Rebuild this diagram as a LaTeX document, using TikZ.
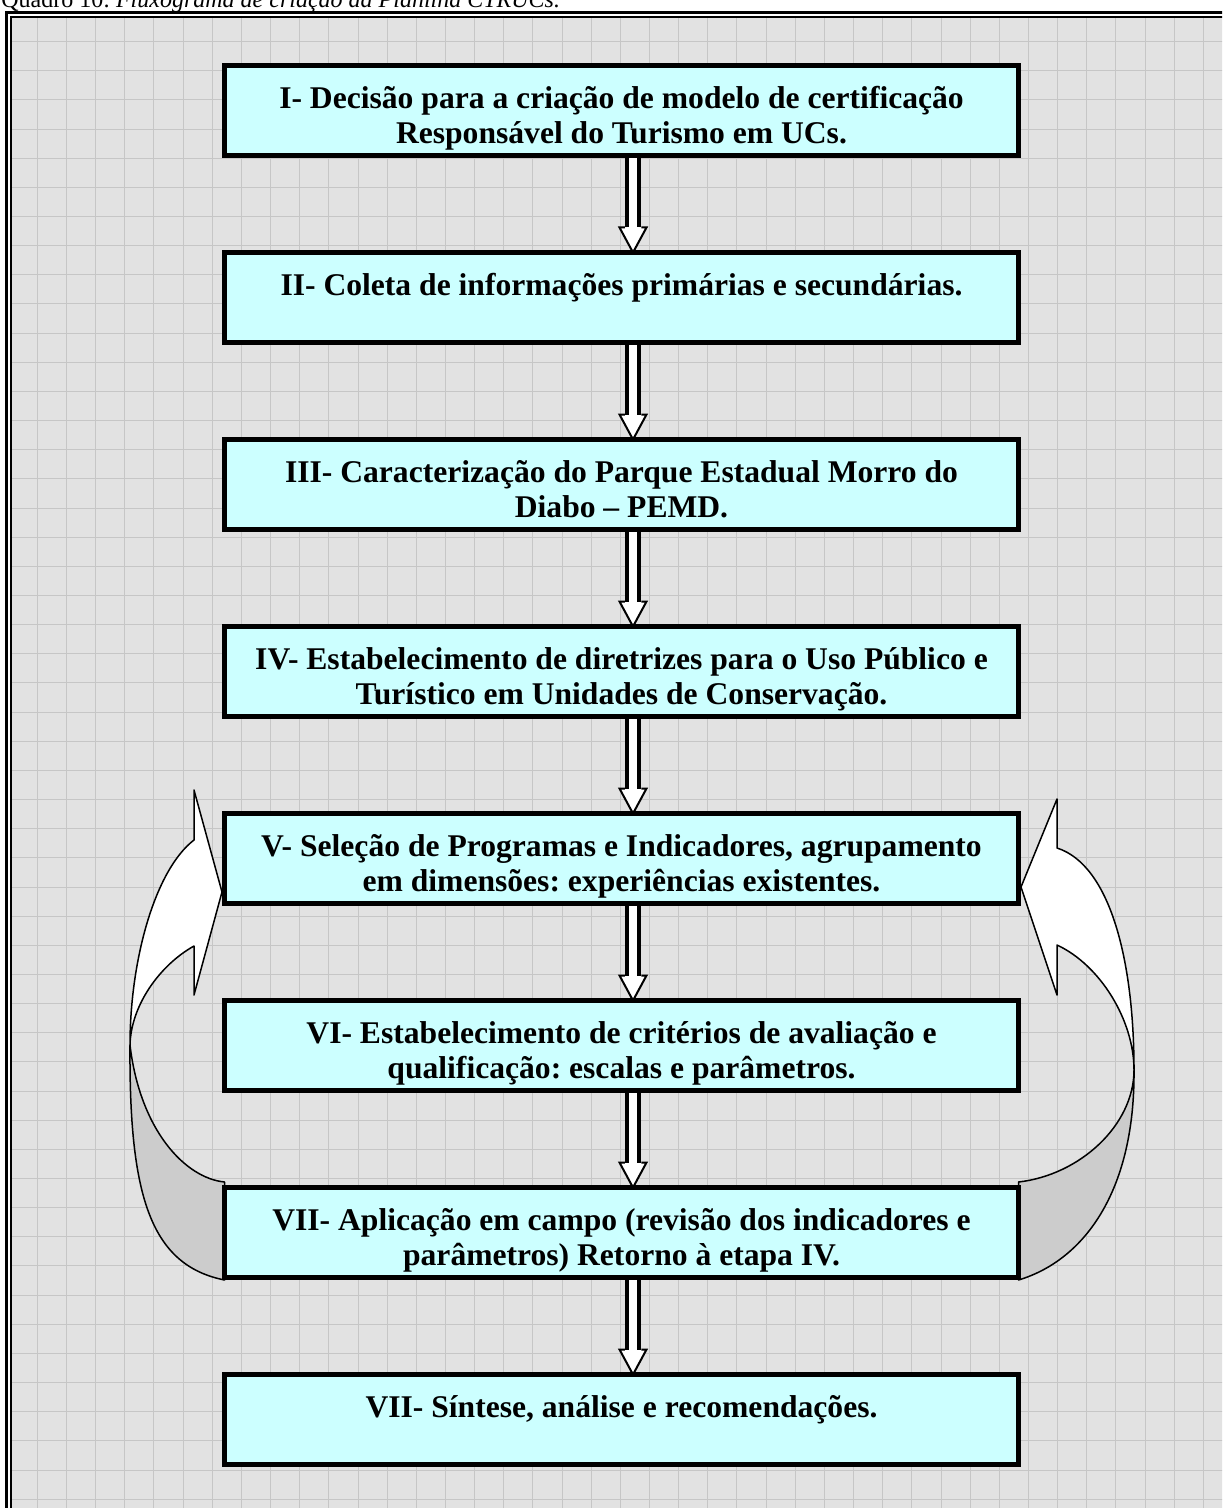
\documentclass[tikz,border=0pt]{standalone}
\usepackage{fontspec}
\setmainfont{Liberation Serif}
\usetikzlibrary{calc}
\definecolor{boxcyan}{HTML}{CCFFFF}
\definecolor{bggray}{HTML}{E2E2E2}
\definecolor{gridgray}{HTML}{C6C6C6}
\definecolor{backgray}{HTML}{CCCCCC}
\frenchspacing
\newcommand\hollowarrow[2]{%
 \fill[white] let \p1=(#1.south), \p2=(#2.north) in (\x1+2.75pt,\y1) -- (\x1+2.75pt,\y2+12.5pt) -- (\x1-1pt,\y2+12.5pt) -- (\x1+5.75pt,\y2) -- (\x1+12.5pt,\y2+12.5pt) -- (\x1+8.75pt,\y2+12.5pt) -- (\x1+8.75pt,\y1) -- cycle;
 \draw[line width=2.25pt] let \p1=(#1.south), \p2=(#2.north) in (\x1+2.75pt,\y1) -- (\x1+2.75pt,\y2+12.5pt) (\x1+8.75pt,\y1) -- (\x1+8.75pt,\y2+12.5pt);
 \draw[line width=1pt, line join=miter, miter limit=10] let \p1=(#1.south), \p2=(#2.north) in (\x1+1.625pt,\y2+12.5pt) -- (\x1-1pt,\y2+12.5pt) -- (\x1+5.75pt,\y2) -- (\x1+12.5pt,\y2+12.5pt) -- (\x1+9.875pt,\y2+12.5pt);
}
\begin{document}
\begin{tikzpicture}[x=0.5pt,y=-0.5pt,
  stage/.style={draw=black, line width=2.5pt, fill=boxcyan, minimum width=397pt, minimum height=45pt, inner sep=0pt, outer sep=0pt},
  stagetext/.style={anchor=north, align=center, inner sep=0pt, font=\fontsize{15.8}{17.5}\selectfont\bfseries},
  ribbon/.style={draw=black, line width=0.75pt, line join=round, fill=white},
  ribbonback/.style={draw=black, line width=0.75pt, line join=round, fill=backgray}]
\useasboundingbox (0,0) rectangle (1222,1508);
\clip (0,0) rectangle (1222,1508);
% page and frame
\fill[white] (0,0) rectangle (1222,1508);
\fill[bggray] (11,17) rectangle (1240,1530);
\foreach \i in {1,...,42} \draw[gridgray, line width=0.5pt] ({8.2+29.15*\i},17) -- ({8.2+29.15*\i},1530);
\foreach \j in {1,...,52} \draw[gridgray, line width=0.5pt] (11,{12.5+29.15*\j}) -- (1240,{12.5+29.15*\j});
\draw[line width=1.5pt] (6.5,12.2) rectangle (1250,1540);
\draw[line width=1.1pt] (11,17.3) rectangle (1250,1540);
% caption
\node[anchor=base west, inner sep=0pt, font=\fontsize{12}{14}\selectfont] (cap) at (1,8) {Quadro 10: \textit{Fluxograma de criação da Planilha CTRUCs.}};
% box centres
\path
  (621.5,110.5) coordinate (c1)
  (621.5,297.5) coordinate (c2)
  (621.5,484.5) coordinate (c3)
  (621.5,671.5) coordinate (c4)
  (621.5,858.5) coordinate (c5)
  (621.5,1045.5) coordinate (c6)
  (621.5,1232.5) coordinate (c7)
  (621.5,1419.5) coordinate (c8);
% curved return arrows (right)
\draw[ribbonback] (1018.5,1280) .. controls (1085,1260) and (1135,1190) .. (1134,1070) .. controls (1134,1125) and (1080,1175) .. (1018.5,1182) -- cycle;
\draw[ribbon] (1134,1070) .. controls (1134,960) and (1110,865) .. (1057,848) -- (1057,799) -- (1021,887) -- (1057,995) -- (1057,945) .. controls (1100,965) and (1134,1020) .. (1134,1070) -- cycle;
% curved return arrows (left)
\draw[ribbonback] (224.5,1280) .. controls (150,1265) and (129,1195) .. (130,1045) .. controls (140,1130) and (185,1178) .. (224.5,1182) -- cycle;
\draw[ribbon] (130,1045) .. controls (130,960) and (155,870) .. (194,840) -- (194,790) -- (222,892) -- (194,995) -- (194,946) .. controls (160,965) and (131,1005) .. (130,1045) -- cycle;
% nodes
\node[stage] (s1) at (c1) {};
\node[stage] (s2) at (c2) {};
\node[stage] (s3) at (c3) {};
\node[stage] (s4) at (c4) {};
\node[stage] (s5) at (c5) {};
\node[stage] (s6) at (c6) {};
\node[stage] (s7) at (c7) {};
\node[stage] (s8) at (c8) {};
% connectors
\hollowarrow{s1}{s2}
\hollowarrow{s2}{s3}
\hollowarrow{s3}{s4}
\hollowarrow{s4}{s5}
\hollowarrow{s5}{s6}
\hollowarrow{s6}{s7}
\hollowarrow{s7}{s8}
% redraw box borders over arrow ends
\foreach \k in {1,...,8} \draw[line width=2.5pt] (s\k.north west) rectangle (s\k.south east);
% texts
\node[stagetext] (t1) at ($(s1.center)+(0,-27)$) {\strut I- Decisão para a criação de modelo de certificação\\Responsável do Turismo em UCs.};
\node[stagetext] (t2) at ($(s2.center)+(0,-27)$) {\strut II- Coleta de informações primárias e secundárias.};
\node[stagetext] (t3) at ($(s3.center)+(0,-27)$) {\strut III- Caracterização do Parque Estadual Morro do\\Diabo – PEMD.};
\node[stagetext] (t4) at ($(s4.center)+(0,-27)$) {\strut IV- Estabelecimento de diretrizes para o Uso Público e\\Turístico em Unidades de Conservação.};
\node[stagetext] (t5) at ($(s5.center)+(0,-27)$) {\strut V- Seleção de Programas e Indicadores, agrupamento\\em dimensões: experiências existentes.};
\node[stagetext] (t6) at ($(s6.center)+(0,-27)$) {\strut VI- Estabelecimento de critérios de avaliação e\\qualificação: escalas e parâmetros.};
\node[stagetext] (t7) at ($(s7.center)+(0,-27)$) {\strut VII- Aplicação em campo (revisão dos indicadores e\\parâmetros) Retorno à etapa IV.};
\node[stagetext] (t8) at ($(s8.center)+(0,-27)$) {\strut VII- Síntese, análise e recomendações.};
\end{tikzpicture}
\end{document}
